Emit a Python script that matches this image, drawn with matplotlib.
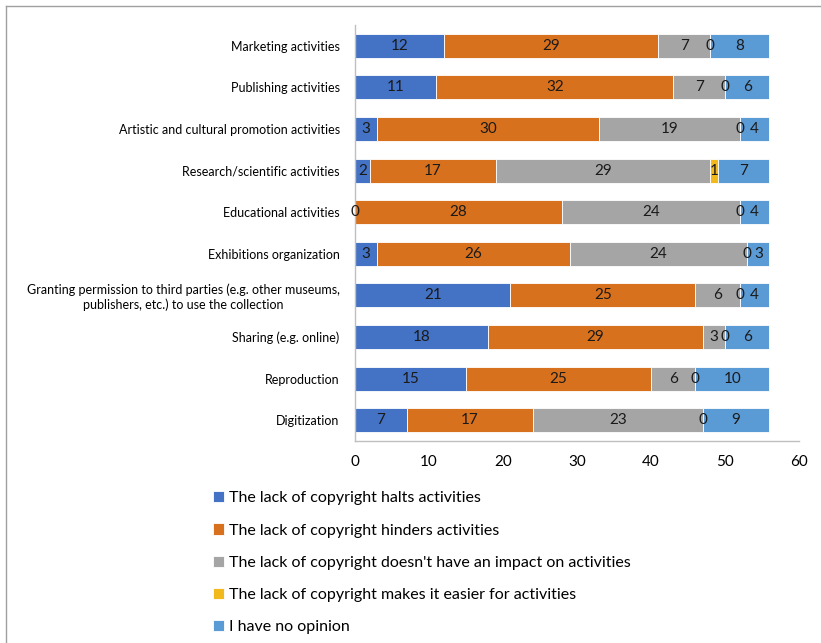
import matplotlib.pyplot as plt
from matplotlib.lines import Line2D
import numpy as np

plt.rcParams['font.family'] = ['Lato', 'DejaVu Sans']

# categories top to bottom
categories = [
    "Marketing activities",
    "Publishing activities",
    "Artistic and cultural promotion activities",
    "Research/scientific activities",
    "Educational activities",
    "Exhibitions organization",
    "Granting permission to third parties (e.g. other museums,\npublishers, etc.) to use the collection",
    "Sharing (e.g. online)",
    "Reproduction",
    "Digitization",
]

series_names = [
    "The lack of copyright halts activities",
    "The lack of copyright hinders activities",
    "The lack of copyright doesn't have an impact on activities",
    "The lack of copyright makes it easier for activities",
    "I have no opinion",
]

halts = [12, 11, 3, 2, 0, 3, 21, 18, 15, 7]
hinders = [29, 32, 30, 17, 28, 26, 25, 29, 25, 17]
no_impact = [7, 7, 19, 29, 24, 24, 6, 3, 6, 23]
easier = [0, 0, 0, 1, 0, 0, 0, 0, 0, 0]
no_opinion = [8, 6, 4, 7, 4, 3, 4, 6, 10, 9]

colors = ['#4472C4', '#D8711D', '#A5A5A5', '#F2B91C', '#5B9BD5']

fig = plt.figure(figsize=(8.21, 6.43), dpi=100)
ax = fig.add_axes([0.4324, 0.3142, 0.5408, 0.6469])

y = np.arange(len(categories))
left = np.zeros(len(categories))
for name, vals, c in zip(series_names, [halts, hinders, no_impact, easier, no_opinion], colors):
    bars = ax.barh(y, vals, left=left, height=0.58, color=c, label=name,
                   edgecolor='white', linewidth=0.6)
    ax.bar_label(bars, labels=[str(v) for v in vals], label_type='center',
                 fontsize=11, color='#1a1a1a')
    left += np.array(vals)

ax.set_ylim(len(categories) - 0.5, -0.5)
ax.set_xlim(0, 60)
ax.set_xticks(range(0, 61, 10))
ax.set_yticks(y)
ax.set_yticklabels(categories, fontsize=9, multialignment='center')
ax.tick_params(axis='x', length=0, labelsize=11, pad=10)
ax.tick_params(axis='y', length=0, pad=11)
for s in ['top', 'right']:
    ax.spines[s].set_visible(False)
for s in ['left', 'bottom']:
    ax.spines[s].set_color('#BFBFBF')
    ax.spines[s].set_linewidth(1)

fig.legend(loc='upper left', bbox_to_anchor=(0.252, 0.246), frameon=False,
           fontsize=11.5, handlelength=0.7, handleheight=0.7, handletextpad=0.3,
           labelspacing=1.13, borderaxespad=0)

# outer frame (top and left edges)
fig.add_artist(Line2D([6 / 821, 6 / 821], [0, 1 - 6 / 643], transform=fig.transFigure,
                      color='#A0A0A0', linewidth=1))
fig.add_artist(Line2D([6 / 821, 1], [1 - 6 / 643, 1 - 6 / 643], transform=fig.transFigure,
                      color='#A0A0A0', linewidth=1))

fig.savefig('out.png', dpi=100)
